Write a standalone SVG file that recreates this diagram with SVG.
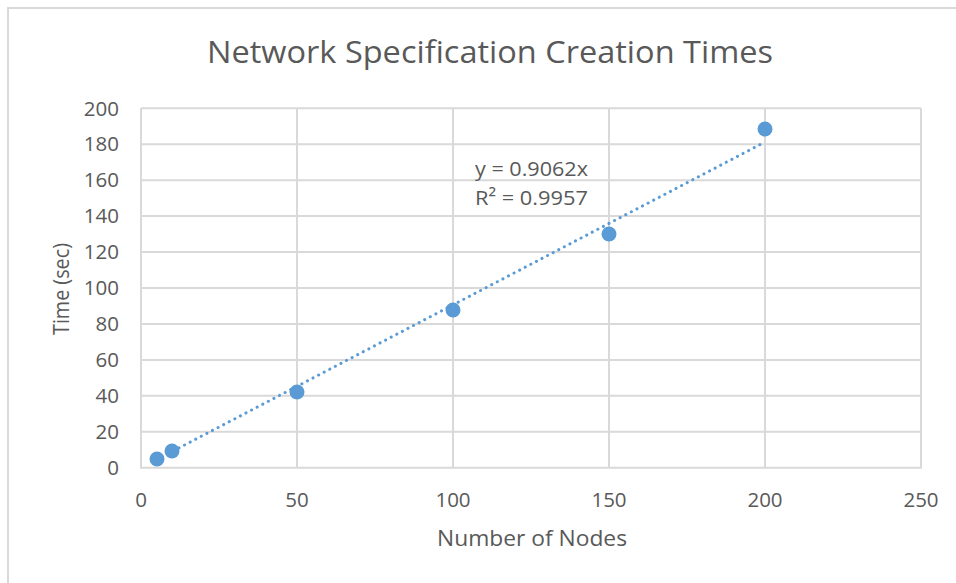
<svg xmlns="http://www.w3.org/2000/svg" width="956" height="583" viewBox="0 0 956 583">
  <style>
    .txt { font-family: "Open Sans", "Liberation Sans", sans-serif; fill: #595959; }
    .tick { font-size: 20.5px; }
    .ytick { text-anchor: end; }
    .xtick { text-anchor: middle; }
    .grid { stroke: #d9d9d9; stroke-width: 2; fill: none; }
    .pt { fill: #5b9bd5; }
    .trend { stroke: #5b9bd5; stroke-width: 3; stroke-linecap: round; stroke-dasharray: 0.1 6.2; fill: none; }
  </style>

  <!-- chart frame -->
  <rect x="0" y="0" width="956" height="583" fill="#ffffff"/>
  <path d="M8 583 V8 H956" stroke="#d9d9d9" stroke-width="2" fill="none"/>

  <!-- title -->
  <text class="txt" x="490" y="63" font-size="31" text-anchor="middle" textLength="566" lengthAdjust="spacingAndGlyphs">Network Specification Creation Times</text>

  <!-- gridlines: y from 0 (467.7) to 200 (108.3), x from 0 (141) to 250 (921) -->
  <g id="grid">
    <path class="grid" d="M141 108.3 H921 M141 144.2 H921 M141 180.2 H921 M141 216.1 H921 M141 252.1 H921 M141 288 H921 M141 323.9 H921 M141 359.9 H921 M141 395.8 H921 M141 431.8 H921"/>
    <path class="grid" d="M141 108.3 V467.7 M297 108.3 V467.7 M453 108.3 V467.7 M609 108.3 V467.7 M765 108.3 V467.7 M921 108.3 V467.7"/>
    <path class="grid" d="M140 467.7 H922"/>
  </g>

  <!-- y tick labels -->
  <g class="txt tick ytick">
    <text x="119" y="115.5">200</text>
    <text x="119" y="151.4">180</text>
    <text x="119" y="187.4">160</text>
    <text x="119" y="223.3">140</text>
    <text x="119" y="259.3">120</text>
    <text x="119" y="295.2">100</text>
    <text x="119" y="331.1">80</text>
    <text x="119" y="367.1">60</text>
    <text x="119" y="403">40</text>
    <text x="119" y="439">20</text>
    <text x="119" y="474.9">0</text>
  </g>

  <!-- x tick labels -->
  <g class="txt tick xtick">
    <text x="141" y="507">0</text>
    <text x="297" y="507">50</text>
    <text x="453" y="507">100</text>
    <text x="609" y="507">150</text>
    <text x="765" y="507">200</text>
    <text x="921" y="507">250</text>
  </g>

  <!-- axis titles -->
  <text class="txt" x="532" y="546" font-size="21" text-anchor="middle" textLength="190" lengthAdjust="spacingAndGlyphs">Number of Nodes</text>
  <text class="txt" x="0" y="0" font-size="21" text-anchor="middle" textLength="92" lengthAdjust="spacingAndGlyphs" transform="translate(69 289) rotate(-90)">Time (sec)</text>

  <!-- linear trendline y = 0.9062x -->
  <g id="connectors">
    <path class="trend" d="M156.6 459.6 L765 142"/>
  </g>

  <!-- data points -->
  <g id="points">
    <circle class="pt" cx="157" cy="459" r="7.5"/>
    <circle class="pt" cx="172" cy="451" r="7.5"/>
    <circle class="pt" cx="297" cy="392" r="7.5"/>
    <circle class="pt" cx="453" cy="310" r="7.5"/>
    <circle class="pt" cx="609" cy="234" r="7.5"/>
    <circle class="pt" cx="765" cy="129" r="7.5"/>
  </g>

  <!-- trendline label -->
  <g class="txt" font-size="20.5">
    <text x="475" y="176" textLength="113" lengthAdjust="spacingAndGlyphs">y = 0.9062x</text>
    <text x="475" y="205" textLength="113" lengthAdjust="spacingAndGlyphs">R² = 0.9957</text>
  </g>
</svg>
